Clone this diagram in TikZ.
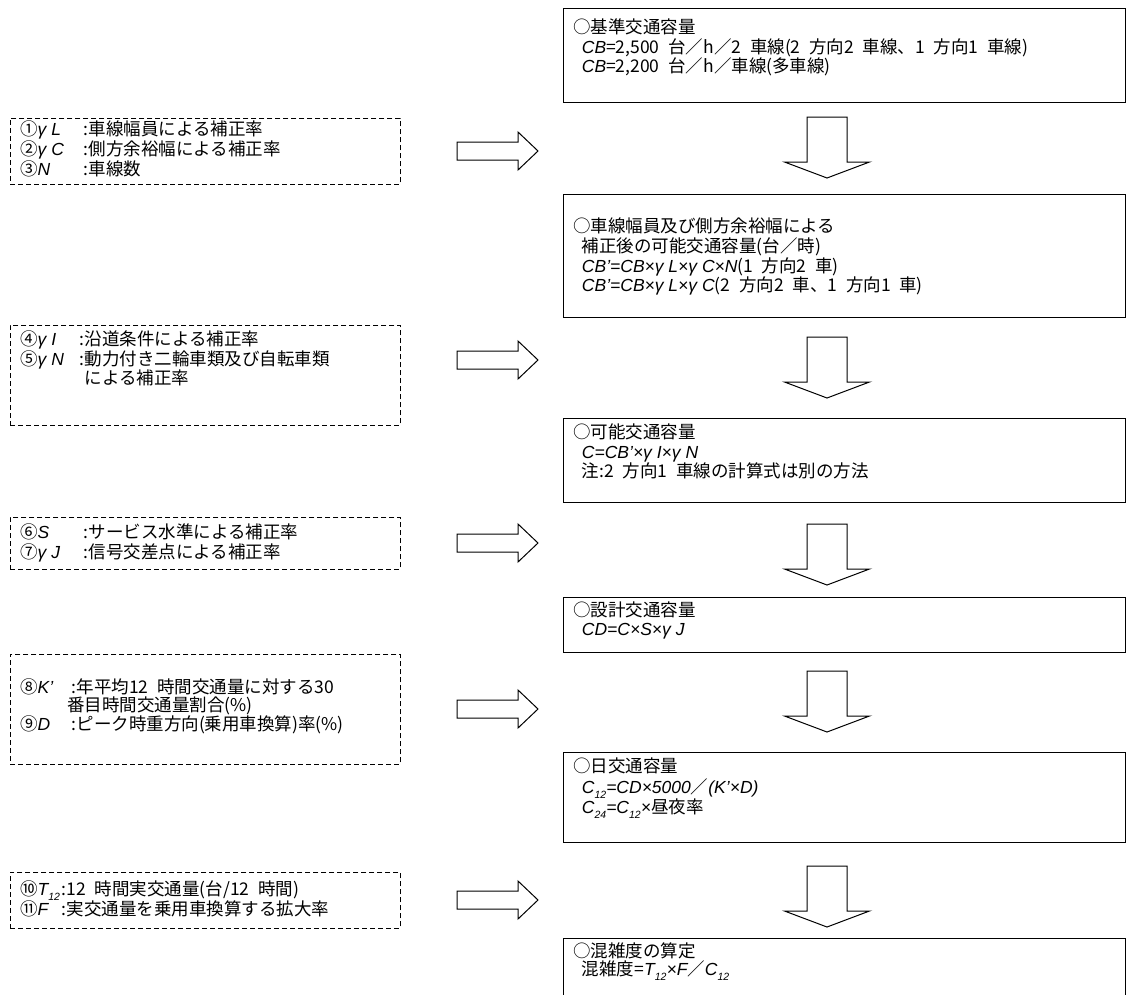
\documentclass[tikz,border=0pt]{standalone}
\usepackage{fontspec}
\setmainfont{Noto Sans CJK JP}
\newfontfamily\lsans{Liberation Sans}
\newcommand\I[1]{{\lsans\itshape #1}}
\newcommand\subx[1]{\raisebox{-0.45ex}{\fontsize{10.5}{10.5}\selectfont\lsans\itshape #1}}
\newcommand\hsp{\hspace{0.5em}}
\begin{document}
\begin{tikzpicture}[x=1pt,y=-1pt,font=\fontsize{17.5}{19.5}\selectfont,
  rbox/.style={draw,line width=1.4pt,anchor=north west,inner sep=0,minimum width=562pt},
  lbox/.style={draw,dash pattern=on 5pt off 3pt,line width=0.9pt,anchor=north west,inner sep=0,minimum width=390pt},
  ln/.style={anchor=west,inner sep=0,text height=0.88em,text depth=0.12em},
  darrow/.pic={\draw[line width=1pt,line join=miter,fill=white] (-20,0) -- (20,0) -- (20,45) -- (42.5,45) -- (0,61) -- (-42.5,45) -- (-20,45) -- cycle;},
  rarrow/.pic={\draw[line width=1pt,line join=miter,fill=white] (0,-9) -- (61,-9) -- (61,-19) -- (81,0) -- (61,19) -- (61,9) -- (0,9) -- cycle;}
]
\useasboundingbox[fill=white] (0,0) rectangle (1130,994);

% right boxes
\node[rbox,minimum height=94pt] (b1) at (563,8) {};
\node[rbox,minimum height=123pt] (b2) at (563,194) {};
\node[rbox,minimum height=84pt] (b3) at (563,418) {};
\node[rbox,minimum height=55pt] (b4) at (563,597) {};
\node[rbox,minimum height=90pt] (b5) at (563,752) {};
\node[rbox,minimum height=70pt] (b6) at (563,938) {};

\node[ln] (t1a) at (573,30) {○基準交通容量};
\node[ln] (t1b) at (573,50) {\hsp\I{CB}=2,500\hsp 台／h／2\hsp 車線(2\hsp 方向2\hsp 車線、1\hsp 方向1\hsp 車線)};
\node[ln] (t1c) at (573,69) {\hsp\I{CB}=2,200\hsp 台／h／車線(多車線)};

\node[ln] (t2a) at (573,229) {○車線幅員及び側方余裕幅による};
\node[ln] (t2b) at (573,249) {\hsp 補正後の可能交通容量(台／時)};
\node[ln] (t2c) at (573,269) {\hsp\I{CB’=CB×γ L×γ C×N}(1\hsp 方向2\hsp 車)};
\node[ln] (t2d) at (573,288) {\hsp\I{CB’=CB×γ L×γ C}(2\hsp 方向2\hsp 車、1\hsp 方向1\hsp 車)};

\node[ln] (t3a) at (573,435) {○可能交通容量};
\node[ln] (t3b) at (573,455) {\hsp\I{C=CB’×γ I×γ N}};
\node[ln] (t3c) at (573,474) {\hsp 注:2\hsp 方向1\hsp 車線の計算式は別の方法};

\node[ln] (t4a) at (573,613) {○設計交通容量};
\node[ln] (t4b) at (573,632) {\hsp\I{CD=C×S×γ J}};

\node[ln] (t5a) at (573,769) {○日交通容量};
\node[ln] (t5b) at (573,790) {\hsp\I{C}\subx{12}\I{=CD×5000}／\I{(K’×D)}};
\node[ln] (t5c) at (573,810) {\hsp\I{C}\subx{24}\I{=C}\subx{12}\I{×}昼夜率};

\node[ln] (t6a) at (573,954) {○混雑度の算定};
\node[ln] (t6b) at (573,972) {\hsp 混雑度=\I{T}\subx{12}\I{×F}／\I{C}\subx{12}};

% left dashed boxes
\node[lbox,minimum height=66pt] (l1) at (10,118) {};
\node[lbox,minimum height=100pt] (l2) at (10,325) {};
\node[lbox,minimum height=52pt] (l3) at (10,517) {};
\node[lbox,minimum height=110pt] (l4) at (10,654) {};
\node[lbox,minimum height=56pt] (l5) at (10,872) {};

\node[ln] (s1a) at (20,132) {①\makebox[46pt][l]{\I{γ L}}:車線幅員による補正率};
\node[ln] (s1b) at (20,152) {②\makebox[46pt][l]{\I{γ C}}:側方余裕幅による補正率};
\node[ln] (s1c) at (20,172) {③\makebox[46pt][l]{\I{N}}:車線数};

\node[ln] (s2a) at (20,342) {④\makebox[42pt][l]{\I{γ I}}:沿道条件による補正率};
\node[ln] (s2b) at (20,362) {⑤\makebox[42pt][l]{\I{γ N}}:動力付き二輪車類及び自転車類};
\node[ln] (s2c) at (20,381) {\phantom{⑤\makebox[42pt][l]{\I{γ N}}:}による補正率};

\node[ln] (s3a) at (20,535) {⑥\makebox[46pt][l]{\I{S}}:サービス水準による補正率};
\node[ln] (s3b) at (20,555) {⑦\makebox[46pt][l]{\I{γ J}}:信号交差点による補正率};

\node[ln] (s4a) at (20,690) {⑧\makebox[34pt][l]{\I{K’}}:年平均12\hsp 時間交通量に対する30};
\node[ln] (s4b) at (20,708) {\hspace{47pt}番目時間交通量割合(\%)};
\node[ln] (s4c) at (20,727) {⑨\makebox[34pt][l]{\I{D}}:ピーク時重方向(乗用車換算)率(\%)};

\node[ln] (s5a) at (20,892) {⑩\makebox[24pt][l]{\I{T}\subx{12}}:12\hsp 時間実交通量(台/12\hsp 時間)};
\node[ln] (s5b) at (20,912) {⑪\makebox[24pt][l]{\I{F}}:実交通量を乗用車換算する拡大率};

% arrows
\pic (r1) at (457,151) {rarrow};
\pic (r2) at (457,360) {rarrow};
\pic (r3) at (457,543) {rarrow};
\pic (r4) at (457,709) {rarrow};
\pic (r5) at (457,900) {rarrow};
\pic (d1) at (827,117) {darrow};
\pic (d2) at (827,337) {darrow};
\pic (d3) at (827,524) {darrow};
\pic (d4) at (827,671) {darrow};
\pic (d5) at (827,866) {darrow};
\end{tikzpicture}
\end{document}
